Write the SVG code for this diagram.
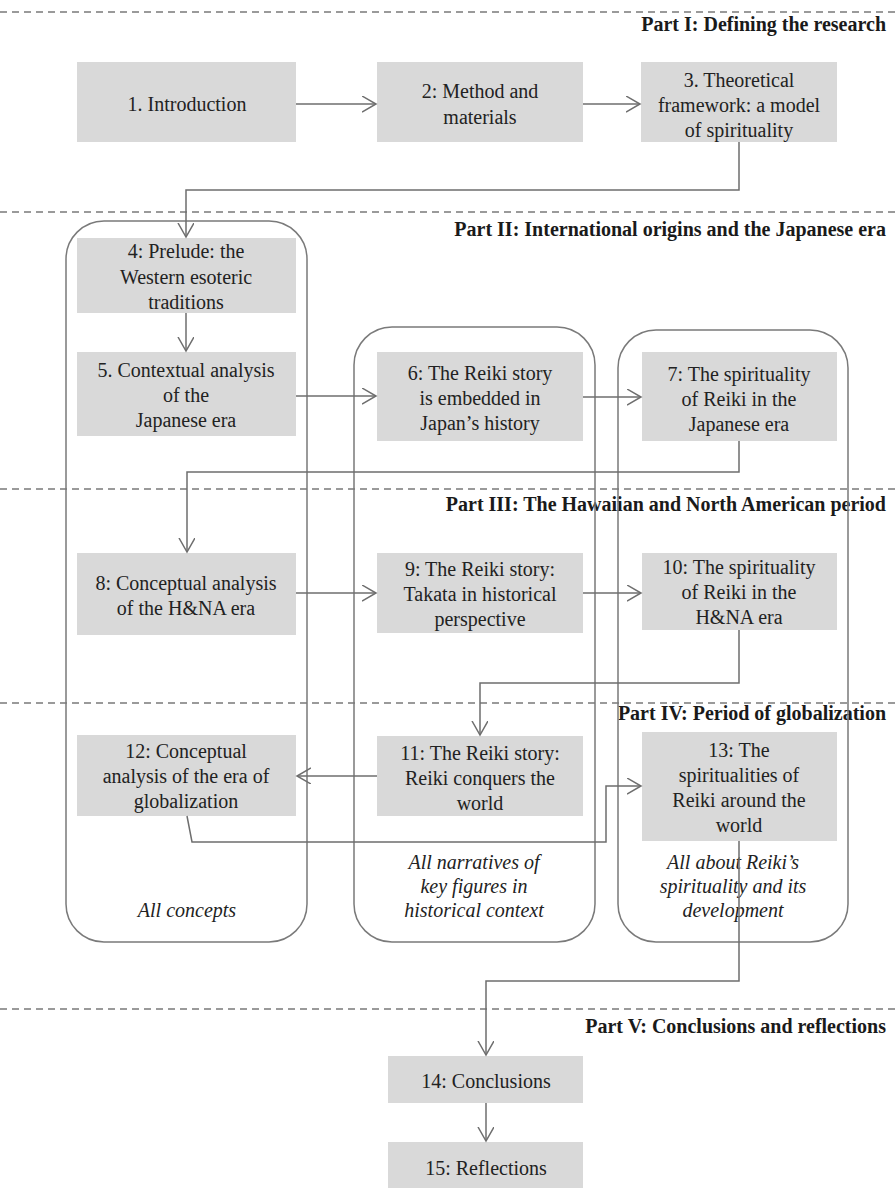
<svg xmlns="http://www.w3.org/2000/svg" width="896" height="1188" viewBox="0 0 896 1188">
<style>
.bg{fill:#ffffff}
.dash{stroke:#7a7a7a;stroke-width:1.5;stroke-dasharray:7 5;fill:none}
.part{font-family:"Liberation Serif","Times New Roman",serif;font-weight:bold;font-size:20px;fill:#1a1a1a;text-anchor:end}
.col{fill:none;stroke:#7a7a7a;stroke-width:1.5}
.box{fill:#d9d9d9;stroke:none}
.t{font-family:"Liberation Serif","Times New Roman",serif;font-size:20px;fill:#222222;text-anchor:middle}
.it{font-family:"Liberation Serif","Times New Roman",serif;font-size:20px;font-style:italic;fill:#222222;text-anchor:middle}
.c{fill:none;stroke:#6e6e6e;stroke-width:1.5;marker-end:url(#arr)}
</style>
<defs>
<marker id="arr" markerUnits="userSpaceOnUse" markerWidth="16" markerHeight="18" viewBox="0 0 16 18" refX="14" refY="8" orient="auto">
<path d="M0,0 L14,8 L0,16" fill="none" stroke="#6e6e6e" stroke-width="1.5"/>
</marker>
</defs>
<rect class="bg" x="0" y="0" width="896" height="1188"/>

<g id="parts">
<line class="dash" x1="0" y1="12" x2="896" y2="12"/>
<text class="part" x="886" y="31">Part I: Defining the research</text>
<line class="dash" x1="0" y1="212" x2="896" y2="212"/>
<text class="part" x="886" y="236">Part II: International origins and the Japanese era</text>
<line class="dash" x1="0" y1="489" x2="896" y2="489"/>
<text class="part" x="886" y="511">Part III: The Hawaiian and North American period</text>
<line class="dash" x1="0" y1="703" x2="896" y2="703"/>
<text class="part" x="886" y="720">Part IV: Period of globalization</text>
<line class="dash" x1="0" y1="1009" x2="896" y2="1009"/>
<text class="part" x="886" y="1033">Part V: Conclusions and reflections</text>
</g>

<g id="columns">
<g id="col-concepts">
<rect class="col" x="66" y="221" width="241" height="721" rx="38" ry="38"/>
<text class="it" x="187" y="917">All concepts</text>
</g>
<g id="col-narratives">
<rect class="col" x="354" y="327" width="241" height="615" rx="38" ry="38"/>
<text class="it" x="474" y="869">All narratives of</text>
<text class="it" x="474" y="893">key figures in</text>
<text class="it" x="474" y="917">historical context</text>
</g>
<g id="col-spirituality">
<rect class="col" x="618" y="330" width="230" height="612" rx="38" ry="38"/>
<text class="it" x="733" y="869">All about Reiki’s</text>
<text class="it" x="733" y="893">spirituality and its</text>
<text class="it" x="733" y="917">development</text>
</g>
</g>

<g id="n1"><rect class="box" x="77" y="62" width="219" height="80"/>
<text class="t" x="187" y="111">1. Introduction</text></g>
<g id="n2"><rect class="box" x="377" y="62" width="206" height="80"/>
<text class="t" x="480" y="98">2: Method and</text>
<text class="t" x="480" y="124">materials</text></g>
<g id="n3"><rect class="box" x="641" y="62" width="196" height="80"/>
<text class="t" x="739" y="87">3. Theoretical</text>
<text class="t" x="739" y="112">framework: a model</text>
<text class="t" x="739" y="137">of spirituality</text></g>

<g id="n4"><rect class="box" x="77" y="238" width="219" height="75"/>
<text class="t" x="186" y="258">4: Prelude: the</text>
<text class="t" x="186" y="284">Western esoteric</text>
<text class="t" x="186" y="309">traditions</text></g>
<g id="n5"><rect class="box" x="77" y="352" width="219" height="84"/>
<text class="t" x="186" y="377">5. Contextual analysis</text>
<text class="t" x="186" y="402">of the</text>
<text class="t" x="186" y="427">Japanese era</text></g>
<g id="n6"><rect class="box" x="377" y="352" width="206" height="89"/>
<text class="t" x="480" y="380">6: The Reiki story</text>
<text class="t" x="480" y="405">is embedded in</text>
<text class="t" x="480" y="430">Japan’s history</text></g>
<g id="n7"><rect class="box" x="642" y="352" width="195" height="89"/>
<text class="t" x="739" y="381">7: The spirituality</text>
<text class="t" x="739" y="406">of Reiki in the</text>
<text class="t" x="739" y="431">Japanese era</text></g>

<g id="n8"><rect class="box" x="77" y="553" width="219" height="82"/>
<text class="t" x="186" y="590">8: Conceptual analysis</text>
<text class="t" x="186" y="615">of the H&amp;NA era</text></g>
<g id="n9"><rect class="box" x="377" y="553" width="206" height="80"/>
<text class="t" x="480" y="576">9: The Reiki story:</text>
<text class="t" x="480" y="601">Takata in historical</text>
<text class="t" x="480" y="626">perspective</text></g>
<g id="n10"><rect class="box" x="642" y="553" width="195" height="77"/>
<text class="t" x="739" y="574">10: The spirituality</text>
<text class="t" x="739" y="599">of Reiki in the</text>
<text class="t" x="739" y="624">H&amp;NA era</text></g>

<g id="n11"><rect class="box" x="377" y="736" width="206" height="80"/>
<text class="t" x="480" y="760">11: The Reiki story:</text>
<text class="t" x="480" y="785">Reiki conquers the</text>
<text class="t" x="480" y="810">world</text></g>
<g id="n12"><rect class="box" x="77" y="735" width="219" height="81"/>
<text class="t" x="186" y="758">12: Conceptual</text>
<text class="t" x="186" y="783">analysis of the era of</text>
<text class="t" x="186" y="808">globalization</text></g>
<g id="n13"><rect class="box" x="642" y="732" width="195" height="109"/>
<text class="t" x="739" y="757">13: The</text>
<text class="t" x="739" y="782">spiritualities of</text>
<text class="t" x="739" y="807">Reiki around the</text>
<text class="t" x="739" y="832">world</text></g>

<g id="n14"><rect class="box" x="388" y="1056" width="195" height="47"/>
<text class="t" x="486" y="1088">14: Conclusions</text></g>
<g id="n15"><rect class="box" x="388" y="1142" width="195" height="46"/>
<text class="t" x="486" y="1175">15: Reflections</text></g>

<g id="connectors">
<polyline class="c" points="296,104 376,104"/>
<polyline class="c" points="583,104 640,104"/>
<polyline class="c" points="739,142 739,190 186,190 186,237"/>
<polyline class="c" points="186,313 186,351"/>
<polyline class="c" points="296,396 376,396"/>
<polyline class="c" points="583,397 641,397"/>
<polyline class="c" points="739,441 739,472 187,472 187,552"/>
<polyline class="c" points="296,593 376,593"/>
<polyline class="c" points="583,593 641,593"/>
<polyline class="c" points="739,630 739,683 480,683 480,735"/>
<polyline class="c" points="377,776 297,776"/>
<polyline class="c" points="187,816 192,842 606,842 606,786 641,786"/>
<polyline class="c" points="739,841 739,981 486,981 486,1055"/>
<polyline class="c" points="486,1103 486,1141"/>
</g>
</svg>
